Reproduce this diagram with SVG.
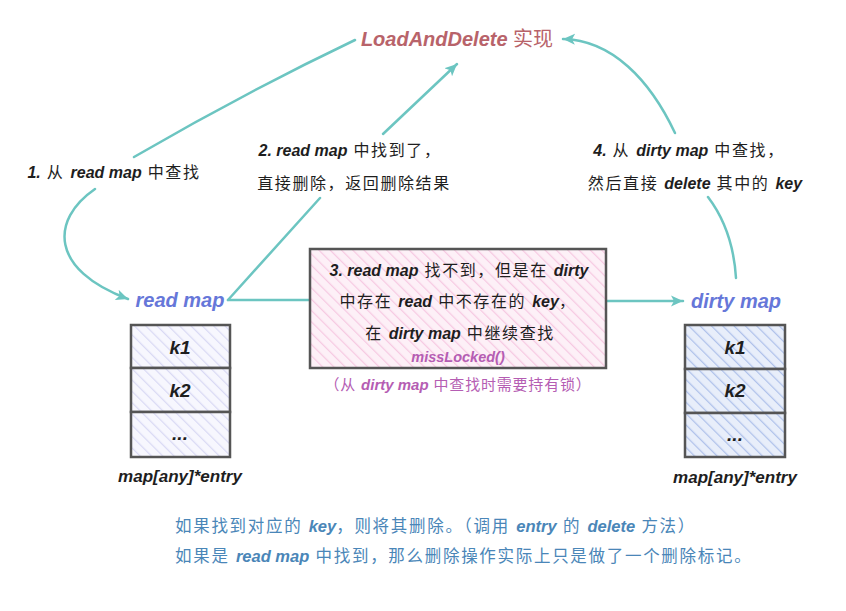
<svg xmlns="http://www.w3.org/2000/svg" width="846" height="611" viewBox="0 0 846 611">
<defs>
<style>
text{font-family:"Liberation Sans","Noto Sans CJK SC",sans-serif;fill:#1e1e1e;}
.ls{letter-spacing:1.6px;}
.en{font-weight:bold;font-style:italic;letter-spacing:0;}
.c{text-anchor:middle;}
.conn{fill:none;stroke:#6cc5c1;stroke-width:2.5;stroke-linecap:round;}
.box{stroke:#555;stroke-width:2.5;}
.title{fill:#b8636a;font-size:20px;}
.blue{fill:#6677d9;font-size:20px;}
.purple{fill:#b55db3;}
.note{fill:#4a86b8;font-size:16.5px;letter-spacing:1.7px;}
</style>
<pattern id="hPink" patternUnits="userSpaceOnUse" width="8" height="8" patternTransform="rotate(-45)">
<rect width="8" height="8" fill="#fdf0f7"/><line x1="0" y1="0" x2="0" y2="8" stroke="#f6c9e2" stroke-width="2.5"/>
</pattern>
<pattern id="hLav" patternUnits="userSpaceOnUse" width="8" height="8" patternTransform="rotate(-45)">
<rect width="8" height="8" fill="#f7f7fe"/><line x1="0" y1="0" x2="0" y2="8" stroke="#d9d9f4" stroke-width="2.5"/>
</pattern>
<pattern id="hBlue" patternUnits="userSpaceOnUse" width="8" height="8" patternTransform="rotate(-45)">
<rect width="8" height="8" fill="#e8eefa"/><line x1="0" y1="0" x2="0" y2="8" stroke="#afc1ea" stroke-width="2.5"/>
</pattern>
<marker id="arr" markerUnits="userSpaceOnUse" markerWidth="14" markerHeight="12" refX="12" refY="6" orient="auto">
<path d="M0,0.5 L12,6 L0,11.5 L3,6 Z" fill="#6cc5c1"/>
</marker>
</defs>

<g id="connectors">
<path class="conn" d="M355,40 Q244,93 134,157"/>
<path class="conn" d="M95,189 C50,220 50,270 128,299" marker-end="url(#arr)"/>
<path class="conn" d="M228,300 L320,198"/>
<path class="conn" d="M383,134 L457,64" marker-end="url(#arr)"/>
<path class="conn" d="M228,300 L323,300"/>
<path class="conn" d="M593,301 L683,301" marker-end="url(#arr)"/>
<path class="conn" d="M736,278 Q733,230 708,197"/>
<path class="conn" d="M675,133 C650,80 612,40 563,39" marker-end="url(#arr)"/>
</g>

<g id="title">
<text class="title c" x="457" y="46"><tspan class="en">LoadAndDelete</tspan> 实现</text>
</g>

<g id="label1">
<text class="c ls" x="114" y="178" font-size="16"><tspan class="en">1.</tspan> 从 <tspan class="en">read map</tspan> 中查找</text>
</g>

<g id="label2">
<text class="c ls" x="350" y="156" font-size="16"><tspan class="en">2. read map</tspan> 中找到了，</text>
<text class="c ls" x="354" y="189" font-size="16">直接删除，返回删除结果</text>
</g>

<g id="label4">
<text class="c ls" x="689" y="156" font-size="16"><tspan class="en">4.</tspan> 从 <tspan class="en">dirty map</tspan> 中查找，</text>
<text class="c ls" x="695" y="189" font-size="16">然后直接 <tspan class="en">delete</tspan> 其中的 <tspan class="en">key</tspan></text>
</g>

<g id="step3">
<rect class="box" x="310" y="249" width="296" height="119" fill="url(#hPink)"/>
<text class="c ls" x="459" y="276" font-size="16"><tspan class="en">3. read map</tspan> 找不到，但是在 <tspan class="en">dirty</tspan></text>
<text class="c ls" x="458" y="307" font-size="16">中存在 <tspan class="en">read</tspan> 中不存在的 <tspan class="en">key</tspan>，</text>
<text class="c ls" x="460" y="339" font-size="16">在 <tspan class="en">dirty map</tspan> 中继续查找</text>
<text class="c purple en" x="458" y="362" font-size="14.5">missLocked()</text>
<text class="c purple" x="458" y="390" font-size="15" letter-spacing="0.8">（从 <tspan class="en">dirty map</tspan> 中查找时需要持有锁）</text>
</g>

<g id="readmap">
<text class="blue en c" x="180" y="307">read map</text>
<rect class="box" x="131" y="325" width="99" height="43" fill="url(#hLav)"/>
<rect class="box" x="131" y="368" width="99" height="44" fill="url(#hLav)"/>
<rect class="box" x="131" y="412" width="99" height="45" fill="url(#hLav)"/>
<text class="c en" x="180" y="354" font-size="19">k1</text>
<text class="c en" x="180" y="397" font-size="19">k2</text>
<text class="c en" x="180" y="440" font-size="19">...</text>
<text class="c en" x="180" y="482" font-size="17">map[any]*entry</text>
</g>

<g id="dirtymap">
<text class="blue en c" x="736" y="308">dirty map</text>
<rect class="box" x="685" y="325" width="100" height="44" fill="url(#hBlue)"/>
<rect class="box" x="685" y="369" width="100" height="44" fill="url(#hBlue)"/>
<rect class="box" x="685" y="413" width="100" height="44" fill="url(#hBlue)"/>
<text class="c en" x="735" y="354" font-size="19">k1</text>
<text class="c en" x="735" y="397" font-size="19">k2</text>
<text class="c en" x="735" y="441" font-size="19">...</text>
<text class="c en" x="735" y="483" font-size="17">map[any]*entry</text>
</g>

<g id="notes">
<text class="note" x="175" y="532">如果找到对应的 <tspan class="en">key</tspan>，则将其删除。（调用 <tspan class="en">entry</tspan> 的 <tspan class="en">delete</tspan> 方法）</text>
<text class="note" x="175" y="562">如果是 <tspan class="en">read map</tspan> 中找到，那么删除操作实际上只是做了一个删除标记。</text>
</g>
</svg>
